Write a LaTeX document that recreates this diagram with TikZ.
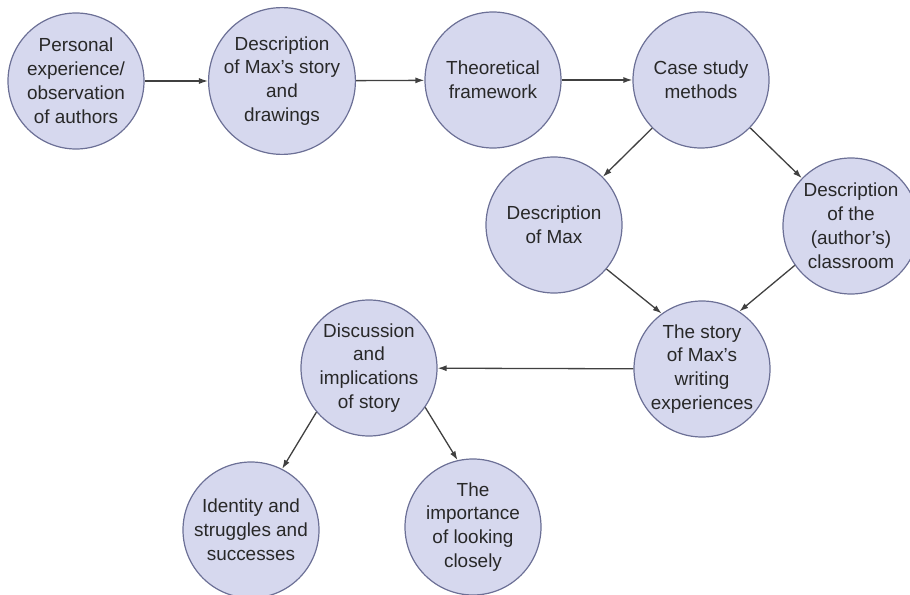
\documentclass[tikz,border=0pt]{standalone}
\usepackage{fontspec}
\setmainfont{Liberation Sans}
\usetikzlibrary{shapes,arrows.meta}
\definecolor{bubblefill}{RGB}{214,216,238}
\definecolor{bubbleline}{RGB}{108,112,150}
\definecolor{inkgray}{RGB}{40,40,40}

\begin{document}
\begin{tikzpicture}[x=1bp,y=-1bp,
  topic/.style={circle,draw=bubbleline,line width=1.2bp,fill=bubblefill,minimum size=136bp,
    inner sep=0pt,align=center,text=inkgray,font=\fontsize{19}{24}\selectfont},
  link/.style={-{Latex[length=9bp,width=6bp]},draw=black!75,line width=1.3bp}]
\useasboundingbox (0,0) rectangle (910,595);
% top row
\node[topic] (personal) at (76,81) {Personal\\experience/\\observation\\of authors};
\node[topic] (maxstory) at (282,81) {Description\\of Max's story\\and\\drawings};
\node[topic] (theory) at (493,80) {Theoretical\\framework};
\node[topic] (methods) at (701,80) {Case study\\methods};
% middle
\node[topic] (maxdesc) at (554,225) {Description\\of Max};
\node[topic] (classroom) at (851,226) {Description\\of the\\(author's)\\classroom};
\node[topic] (writing) at (702,369) {The story\\of Max's\\writing\\experiences};
\node[topic] (discussion) at (369,368) {Discussion\\and\\implications\\of story};
% bottom
\node[topic] (identity) at (251,530) {Identity and\\struggles and\\successes};
\node[topic] (looking) at (473,527) {The\\importance\\of looking\\closely};

\draw[link] (personal) -- (maxstory);
\draw[link] (maxstory) -- (theory);
\draw[link] (theory) -- (methods);
\draw[link] (methods) -- (maxdesc);
\draw[link] (methods) -- (classroom);
\draw[link] (maxdesc.-40) -- (writing.126);
\draw[link] (classroom.-145) -- (writing.57);
\draw[link] (writing) -- (discussion);
\draw[link] (discussion.-140) -- (identity.63);
\draw[link] (discussion.-35) -- (looking.103);
\end{tikzpicture}
\end{document}
